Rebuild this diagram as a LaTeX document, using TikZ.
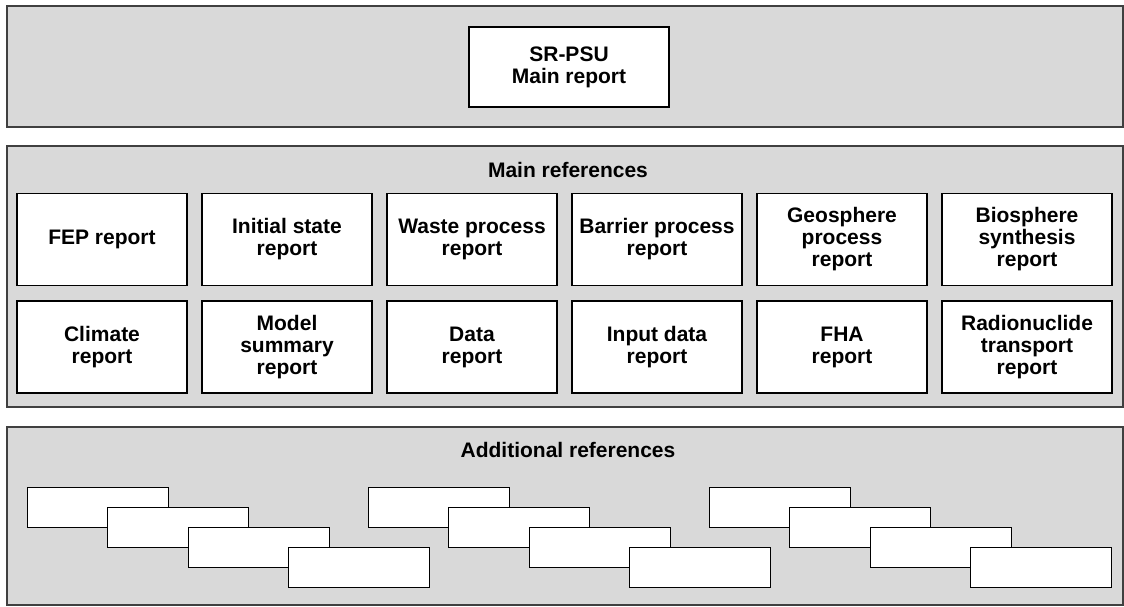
\documentclass[tikz,border=0pt]{standalone}
\usepackage{fontspec}
\setmainfont{Liberation Sans}
\begin{document}
\begin{tikzpicture}[x=1pt,y=-1pt,
  panel/.style={draw=black!75,line width=1.5pt,fill=black!15},
  rep/.style={draw=black,line width=1.3pt,fill=white,minimum width=170pt,minimum height=92pt,
    align=center,font=\bfseries\fontsize{21}{22}\selectfont,inner sep=0pt,
    execute at begin node={\vspace*{5pt}}},
  addbox/.style={draw=black,line width=1.3pt,fill=white,minimum width=141pt,minimum height=40pt,
    anchor=north west,inner sep=0pt},
  mainbox/.style={draw=black,line width=1.3pt,fill=white,minimum width=200pt,minimum height=80pt,
    align=center,font=\bfseries\fontsize{21}{22}\selectfont,inner sep=0pt},
  ttl/.style={font=\bfseries\fontsize{21}{22}\selectfont}]
\useasboundingbox (0,0) rectangle (1124,606);
\path[panel] (7,6) rectangle (1123,127);
\path[panel] (7,146) rectangle (1123,407);
\path[panel] (7,427) rectangle (1123,605);
\node[mainbox] (main) at (569,67) {SR-PSU\\Main report};
\node[ttl] (mref) at (568,170) {Main references};
\node[ttl] (aref) at (568,450) {Additional references};
\node[rep] (r1) at (102,239.5) {FEP report};
\node[rep] (r2) at (287,239.5) {Initial state\\report};
\node[rep] (r3) at (472,239.5) {Waste process\\report};
\node[rep] (r4) at (657,239.5) {Barrier process\\report};
\node[rep] (r5) at (842,239.5) {Geosphere\\process\\report};
\node[rep] (r6) at (1027,239.5) {Biosphere\\synthesis\\report};
\node[rep] (r7) at (102,347) {Climate\\report};
\node[rep] (r8) at (287,347) {Model\\summary\\report};
\node[rep] (r9) at (472,347) {Data\\report};
\node[rep] (r10) at (657,347) {Input data\\report};
\node[rep] (r11) at (842,347) {FHA\\report};
\node[rep] (r12) at (1027,347) {Radionuclide\\transport\\report};
\foreach \g/\gx in {1/0,2/341,3/682}{
  \node[addbox] (a\g a) at (27+\gx,487) {};
  \node[addbox] (a\g b) at (107+\gx,507) {};
  \node[addbox] (a\g c) at (188+\gx,527) {};
  \node[addbox] (a\g d) at (288+\gx,547) {};
}
\end{tikzpicture}
\end{document}
